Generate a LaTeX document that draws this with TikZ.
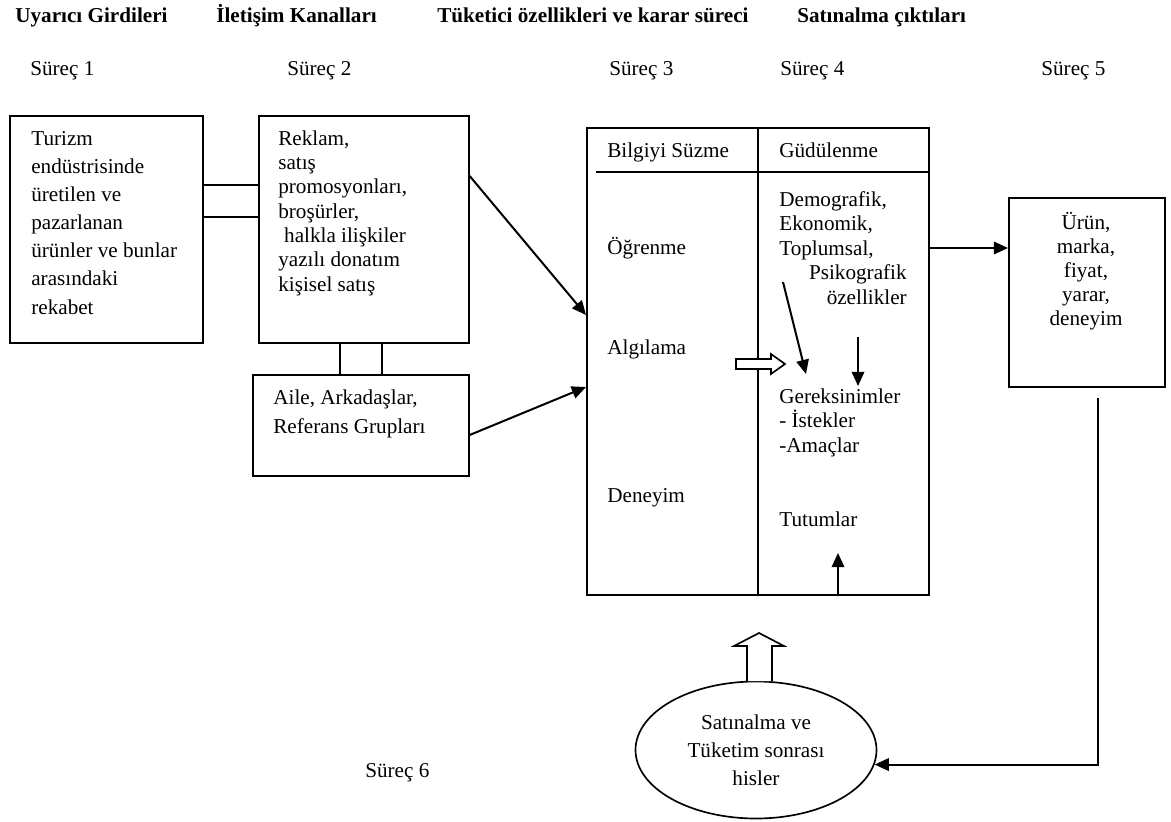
\documentclass[tikz,border=0pt]{standalone}
\usepackage{fontspec}
\setmainfont{Liberation Serif}
\usetikzlibrary{arrows.meta,shapes.geometric}

\begin{document}
\begin{tikzpicture}[x=0.6pt,y=-0.6pt,
    >={Triangle[length=8.5pt,width=7.5pt]},
    kutu/.style={draw,line width=1pt,inner sep=0pt,anchor=north west},
    yazi/.style={inner sep=0pt,anchor=base west,align=left,font=\fontsize{12.7pt}{14.6pt}\selectfont},
    baslik/.style={inner sep=0pt,anchor=base west,font=\bfseries\fontsize{12.7pt}{14pt}\selectfont},
    ok/.style={->,line width=1.2pt},
    bos/.style={draw,line width=1pt,fill=white}]
    \useasboundingbox (0,0) rectangle (1171,822);
    % basliklar
    \node[baslik] (b1) at (15,23) {Uyarıcı Girdileri};
    \node[baslik] (b2) at (216,23) {İletişim Kanalları};
    \node[baslik] (b3) at (437,23) {Tüketici özellikleri ve karar süreci};
    \node[baslik] (b4) at (797,23) {Satınalma çıktıları};
    \node[yazi] (s1) at (30,76) {Süreç 1};
    \node[yazi] (s2) at (287,76) {Süreç 2};
    \node[yazi] (s3) at (609,76) {Süreç 3};
    \node[yazi] (s4) at (780,76) {Süreç 4};
    \node[yazi] (s5) at (1041,76) {Süreç 5};
    \node[yazi] (s6) at (365,777) {Süreç 6};
    % kutular
    \node[kutu,minimum width=115.8pt,minimum height=136.2pt] (turizm) at (9,115) {};
    \node[kutu,minimum width=126pt,minimum height=136.2pt] (kanal) at (258,115) {};
    \node[kutu,minimum width=129.6pt,minimum height=60.6pt] (aile) at (252,374) {};
    \node[kutu,minimum width=205.2pt,minimum height=280.2pt] (tuketici) at (586,127) {};
    \node[kutu,minimum width=93.6pt,minimum height=113.4pt] (urun) at (1008,197) {};
    \node[draw,ellipse,line width=1pt,minimum width=144.6pt,minimum height=82.2pt,inner sep=0pt,
        align=center,font=\fontsize{12.7pt}{16.8pt}\selectfont] (his) at (756,750)
        {Satınalma ve\\Tüketim sonrası\\hisler};
    % kutu yazilari (base = son satir)
    \node[yazi,font=\fontsize{12.7pt}{16.9pt}\selectfont] (tturizm) at (31,314)
        {Turizm\\endüstrisinde\\üretilen ve\\pazarlanan\\ürünler ve bunlar\\arasındaki\\rekabet};
    \node[yazi] (tkanal) at (278,291)
        {Reklam,\\satış\\promosyonları,\\broşürler,\\\hspace{3.5pt}halkla ilişkiler\\yazılı donatım\\kişisel satış};
    \node[yazi,font=\fontsize{12.7pt}{17.4pt}\selectfont] (taile) at (273,433)
        {Aile, Arkadaşlar,\\Referans Grupları};
    \node[yazi] (bilgi) at (607,158) {Bilgiyi Süzme};
    \node[yazi] (ogren) at (607,254) {Öğrenme};
    \node[yazi] (algi) at (607,354) {Algılama};
    \node[yazi] (deney) at (607,502) {Deneyim};
    \node[yazi] (gudu) at (779,158) {Güdülenme};
    \node[yazi] (demo) at (779,255) {Demografik,\\Ekonomik,\\Toplumsal,};
    \node[yazi,anchor=base east,align=right] (psiko) at (907,304) {Psikografik\\özellikler};
    \node[yazi] (gerek) at (779,452) {Gereksinimler\\- İstekler\\-Amaçlar};
    \node[yazi] (tutum) at (779,526) {Tutumlar};
    \node[yazi,anchor=base,align=center,font=\fontsize{12.7pt}{14.4pt}\selectfont] (turun) at (1086,325)
        {Ürün,\\marka,\\fiyat,\\yarar,\\deneyim};
    % ic cizgiler
    \draw[line width=1pt] (tuketici.north -| 758,0) -- (tuketici.south -| 758,0);
    \draw[line width=1pt] (596,172) -- (tuketici.east |- 0,172);
    % cift cizgiler
    \draw[line width=1pt] (turizm.east |- 0,185) -- (kanal.west |- 0,185);
    \draw[line width=1pt] (turizm.east |- 0,217) -- (kanal.west |- 0,217);
    \draw[line width=1pt] (kanal.south -| 340,0) -- (aile.north -| 340,0);
    \draw[line width=1pt] (kanal.south -| 382,0) -- (aile.north -| 382,0);
    % oklar
    \coordinate (o1) at (783,282);
    \coordinate (o1u) at (806,374);
    \coordinate (o2) at (858,337);
    \coordinate (o2u) at (858,386);
    \coordinate (o3) at (838,553);
    \draw[ok] (kanal.east |- 0,176) -- (tuketici.west |- 0,315);
    \draw[ok] (aile.east |- 0,435) -- (tuketici.west |- 0,387);
    \draw[ok] (tuketici.east |- 0,248) -- (urun.west |- 0,248);
    \draw[ok] (o1) -- (o1u);
    \draw[ok] (o2) -- (o2u);
    \draw[ok] (tuketici.south -| o3) -- (o3);
    \draw[ok] (1098,398) |- (his.-7);
    % bos oklar
    \draw[bos] (736,359) -- (771,359) -- (771,354) -- (785,364) -- (771,374) -- (771,369) -- (736,369) -- cycle;
    \draw[bos] (747,681) -- (747,646) -- (734,646) -- (759,633) -- (784,646) -- (772,646) -- (772,681);
\end{tikzpicture}
\end{document}
